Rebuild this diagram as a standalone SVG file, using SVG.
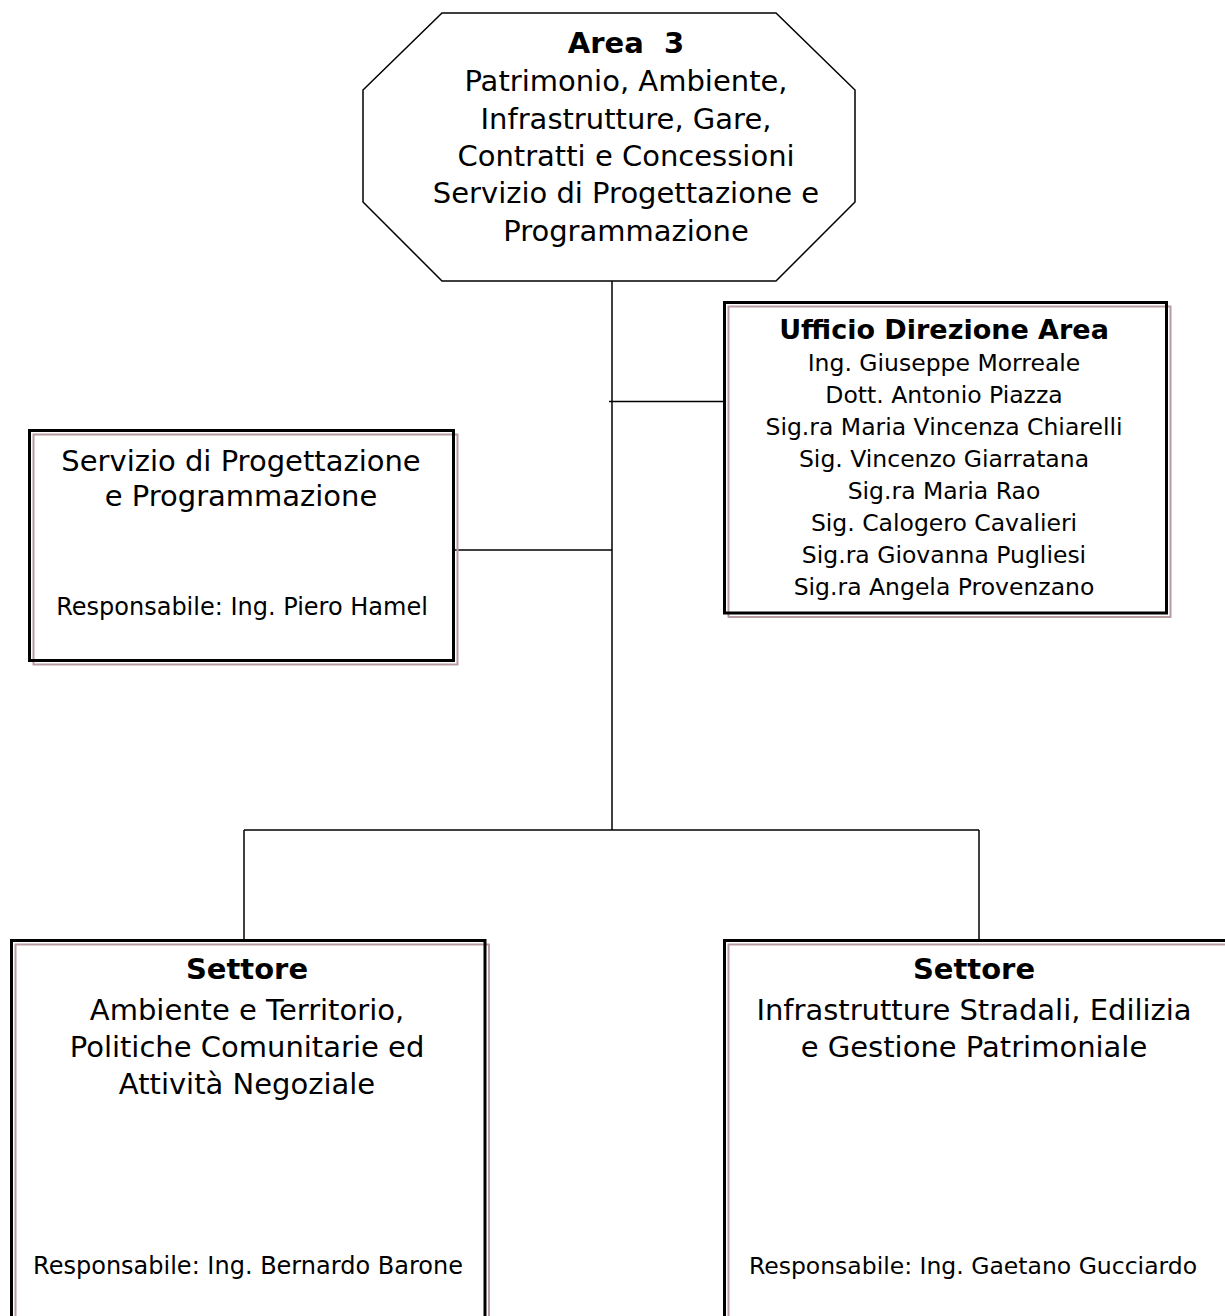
<svg xmlns="http://www.w3.org/2000/svg" width="1225" height="1316" viewBox="0 0 1225 1316">
  <style>
    text { font-family: "DejaVu Sans", Verdana, sans-serif; fill: #000; text-anchor: middle; }
    .b { font-weight: bold; }
    .t29 { font-size: 29px; }
    .t27 { font-size: 27px; }
    .t24 { font-size: 24px; }
    .t23 { font-size: 23.5px; }
    .frame { fill: none; stroke: #000; stroke-width: 3; }
    .shade { fill: none; stroke: #b99ca1; stroke-width: 2; }
    .bg { fill: #fff; }
    .conn line { stroke: #000; stroke-width: 1.5; }
  </style>

  <rect width="1225" height="1316" fill="#fff"/>

  <!-- connectors -->
  <g id="connectors" class="conn">
    <line x1="612" y1="281" x2="612" y2="830"/>
    <line x1="609" y1="401.5" x2="726" y2="401.5"/>
    <line x1="455" y1="550" x2="612" y2="550"/>
    <line x1="244" y1="830" x2="979" y2="830"/>
    <line x1="244" y1="830" x2="244" y2="940"/>
    <line x1="979" y1="830" x2="979" y2="940"/>
  </g>

  <!-- top octagon -->
  <g id="area3">
    <polygon points="442,13 776,13 855,90 855,202 776,281 442,281 363,202 363,90" fill="#fff" stroke="#000" stroke-width="1.5"/>
    <text x="626" y="53" class="b t29" xml:space="preserve">Area  3</text>
    <text x="626" y="91" class="t29">Patrimonio, Ambiente,</text>
    <text x="626" y="129" class="t29">Infrastrutture, Gare,</text>
    <text x="626" y="166" class="t29">Contratti e Concessioni</text>
    <text x="626" y="203" class="t29">Servizio di Progettazione e</text>
    <text x="626" y="241" class="t29">Programmazione</text>
  </g>

  <!-- office box -->
  <g id="ufficio">
    <rect class="bg" x="724.5" y="302.5" width="442" height="310.5"/>
    <rect class="shade" x="728.5" y="306.5" width="442" height="310.5"/>
    <rect class="frame" x="724.5" y="302.5" width="442" height="310.5"/>
    <text x="944" y="339" class="b t27">Ufficio Direzione Area</text>
    <text x="944" y="371" class="t23">Ing. Giuseppe Morreale</text>
    <text x="944" y="403" class="t23">Dott. Antonio Piazza</text>
    <text x="944" y="435" class="t23">Sig.ra Maria Vincenza Chiarelli</text>
    <text x="944" y="467" class="t23">Sig. Vincenzo Giarratana</text>
    <text x="944" y="499" class="t23">Sig.ra Maria Rao</text>
    <text x="944" y="531" class="t23">Sig. Calogero Cavalieri</text>
    <text x="944" y="563" class="t23">Sig.ra Giovanna Pugliesi</text>
    <text x="944" y="595" class="t23">Sig.ra Angela Provenzano</text>
  </g>

  <!-- design service box -->
  <g id="servizio">
    <rect class="bg" x="29.5" y="430.5" width="424" height="230"/>
    <rect class="shade" x="33.5" y="434.5" width="424" height="230"/>
    <rect class="frame" x="29.5" y="430.5" width="424" height="230"/>
    <text x="241" y="471" class="t29">Servizio di Progettazione</text>
    <text x="241" y="506" class="t29">e Programmazione</text>
    <text x="242" y="615" class="t24">Responsabile: Ing. Piero Hamel</text>
  </g>

  <!-- left sector box -->
  <g id="settore-ambiente">
    <rect class="bg" x="11.5" y="940.5" width="473.5" height="420"/>
    <rect class="shade" x="15.5" y="944.5" width="473.5" height="420"/>
    <rect class="frame" x="11.5" y="940.5" width="473.5" height="420"/>
    <text x="247" y="979" class="b t29">Settore</text>
    <text x="247" y="1020" class="t29">Ambiente e Territorio,</text>
    <text x="247" y="1057" class="t29">Politiche Comunitarie ed</text>
    <text x="247" y="1094" class="t29">Attività Negoziale</text>
    <text x="248" y="1274" class="t24">Responsabile: Ing. Bernardo Barone</text>
  </g>

  <!-- right sector box -->
  <g id="settore-infrastrutture">
    <rect class="bg" x="724.5" y="940.5" width="520" height="420"/>
    <rect class="shade" x="728.5" y="944.5" width="520" height="420"/>
    <rect class="frame" x="724.5" y="940.5" width="520" height="420"/>
    <text x="974" y="979" class="b t29">Settore</text>
    <text x="974" y="1020" class="t29">Infrastrutture Stradali, Edilizia</text>
    <text x="974" y="1057" class="t29">e Gestione Patrimoniale</text>
    <text x="973" y="1274" class="t23">Responsabile: Ing. Gaetano Gucciardo</text>
  </g>
</svg>
